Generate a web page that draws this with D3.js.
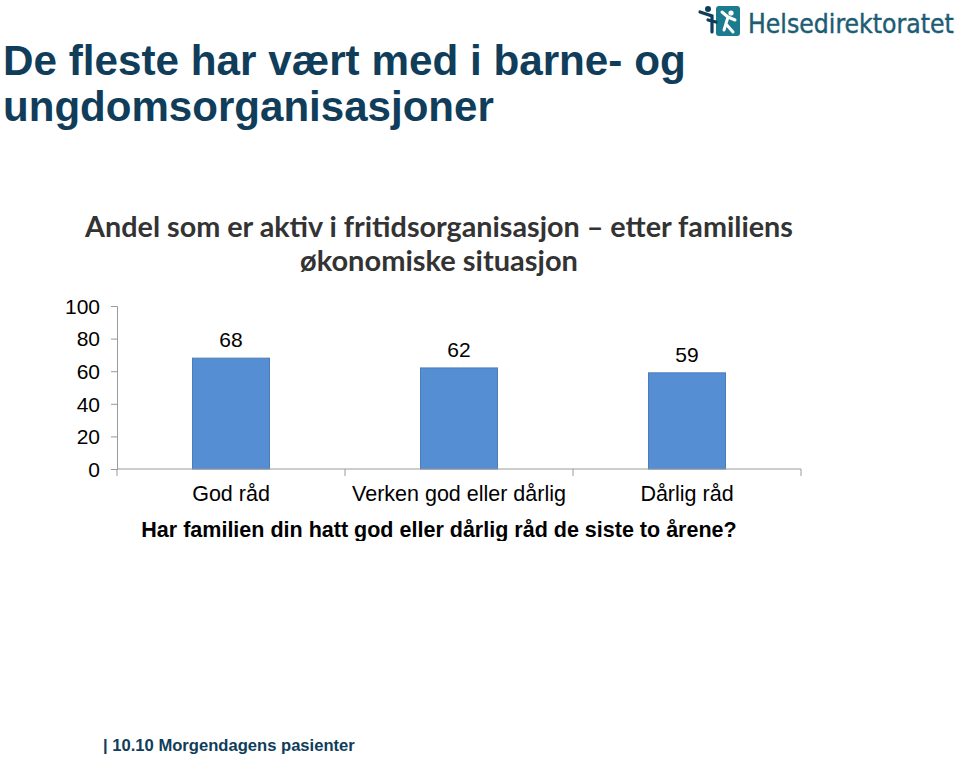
<!DOCTYPE html>
<html><head><meta charset="utf-8">
<script src="https://cdn.jsdelivr.net/npm/d3@7"></script>
<style>body{margin:0;background:#fff}svg{display:block}</style>
</head><body>
<script>
const categories = ["God råd", "Verken god eller dårlig", "Dårlig råd"];
const values = [68, 62, 59];
const yTicks = [0, 20, 40, 60, 80, 100];

const W = 960, H = 757;
const svg = d3.select("body").append("svg").attr("width", W).attr("height", H);

function fit(sel, target) {
  const n = sel.node(); const fs = parseFloat(sel.attr("font-size"));
  const w = n.getComputedTextLength();
  sel.attr("font-size", fs * target / w);
}

// Main title
const navy = "#0f3d5a";
svg.append("text").attr("x", 3).attr("y", 75).attr("font-family", "Liberation Sans, Arial")
  .attr("font-weight", "bold").attr("font-size", 40).attr("fill", navy).text("De fleste har vært med i barne- og")
  .call(fit, 683);
svg.append("text").attr("x", 3).attr("y", 121).attr("font-family", "Liberation Sans, Arial")
  .attr("font-weight", "bold").attr("font-size", 40).attr("fill", navy).text("ungdomsorganisasjoner")
  .call(fit, 491);

// Logo
const logo = svg.append("g");
logo.append("rect").attr("x", 716).attr("y", 6).attr("width", 24).attr("height", 30).attr("rx", 3).attr("fill", "#1b7b8f");
logo.append("circle").attr("cx", 731).attr("cy", 13).attr("r", 2.6).attr("fill", "#fff");
logo.append("path").attr("d", "M728,17 L735,20 M728,17 L724,30 M726,24 L733,32 M728,17 L722,12").attr("stroke", "#fff").attr("stroke-width", 3).attr("fill", "none").attr("stroke-linecap", "round");
logo.append("circle").attr("cx", 708).attr("cy", 9).attr("r", 3).attr("fill", "#0f3d5a");
logo.append("path").attr("d", "M700,12 L712,16 L712,32 M708,20 L716,22").attr("stroke", "#0f3d5a").attr("stroke-width", 3.2).attr("fill", "none").attr("stroke-linecap", "round");
svg.append("text").attr("x", 748).attr("y", 33).attr("font-family", "DejaVu Sans Condensed, DejaVu Sans")
  .attr("font-size", 30).attr("fill", "#1d5c74").attr("stroke", "#1d5c74").attr("stroke-width", 0.4)
  .text("Helsedirektoratet").call(fit, 206);

// Chart title
const ct = "#333333";
svg.append("text").attr("x", 439).attr("y", 237).attr("text-anchor", "middle").attr("font-family", "Lato, Open Sans")
  .attr("font-weight", "bold").attr("font-size", 24).attr("fill", ct)
  .text("Andel som er aktiv i fritidsorganisasjon – etter familiens").call(fit, 708);
svg.append("text").attr("x", 439).attr("y", 271).attr("text-anchor", "middle").attr("font-family", "Lato, Open Sans")
  .attr("font-weight", "bold").attr("font-size", 24).attr("fill", ct)
  .text("økonomiske situasjon").call(fit, 278);

// Chart
const x0 = 117, x1 = 801, yTop = 306, yBot = 469;
const x = d3.scaleBand().domain(categories).range([x0, x1]).paddingInner(0).paddingOuter(0);
const y = d3.scaleLinear().domain([0, 100]).range([yBot, yTop]);
const g = svg.append("g");
const bw = 77;
g.selectAll("rect.bar").data(values).join("rect").attr("class", "bar")
  .attr("x", (d, i) => x(categories[i]) + x.bandwidth() / 2 - bw / 2)
  .attr("y", d => y(d)).attr("width", bw).attr("height", d => y(0) - y(d))
  .attr("fill", "#558ed3").attr("stroke", "#4a7db9").attr("stroke-width", 1);
g.selectAll("text.val").data(values).join("text").attr("class", "val")
  .attr("x", (d, i) => x(categories[i]) + x.bandwidth() / 2).attr("y", d => y(d) - 11)
  .attr("text-anchor", "middle").attr("font-family", "Liberation Sans, Arial").attr("font-size", 21).attr("fill", "#000")
  .text(d => d);

const axisColor = "#9a9a9a";
// Y axis
const ya = svg.append("g").attr("transform", `translate(${x0},0)`)
  .call(d3.axisLeft(y).tickValues(yTicks).tickSize(6).tickPadding(11));
ya.select(".domain").attr("stroke", axisColor);
ya.selectAll(".tick line").attr("stroke", axisColor);
ya.selectAll(".tick text").attr("font-family", "Liberation Sans, Arial").attr("font-size", 21).attr("fill", "#000").attr("dy", "0.35em");

// X axis
const xa = svg.append("g").attr("transform", `translate(0,${yBot})`);
xa.append("line").attr("x1", x0).attr("x2", x1).attr("stroke", axisColor);
const bounds = [x0].concat(categories.map(c => x(c) + x.bandwidth()));
xa.selectAll("line.t").data(bounds).join("line").attr("class", "t")
  .attr("x1", d => d).attr("x2", d => d).attr("y1", 0).attr("y2", 7).attr("stroke", axisColor);
xa.selectAll("text").data(categories).join("text")
  .attr("x", d => x(d) + x.bandwidth() / 2).attr("y", 32).attr("text-anchor", "middle")
  .attr("font-family", "Liberation Sans, Arial").attr("font-size", 21.5).attr("fill", "#000").text(d => d);

// X title (clipped as in image)
svg.append("clipPath").attr("id", "clipx").append("rect").attr("x", 0).attr("y", 500).attr("width", 960).attr("height", 41);
svg.append("text").attr("clip-path", "url(#clipx)").attr("x", 439).attr("y", 537).attr("text-anchor", "middle")
  .attr("font-family", "Liberation Sans, Arial").attr("font-weight", "bold").attr("font-size", 19).attr("fill", "#000")
  .text("Har familien din hatt god eller dårlig råd de siste to årene?").call(fit, 596);

// Footer
svg.append("text").attr("x", 103).attr("y", 751).attr("font-family", "Liberation Sans, Arial")
  .attr("font-weight", "bold").attr("font-size", 17).attr("fill", navy).text("| 10.10 Morgendagens pasienter").call(fit, 252);
</script>
</body></html>
